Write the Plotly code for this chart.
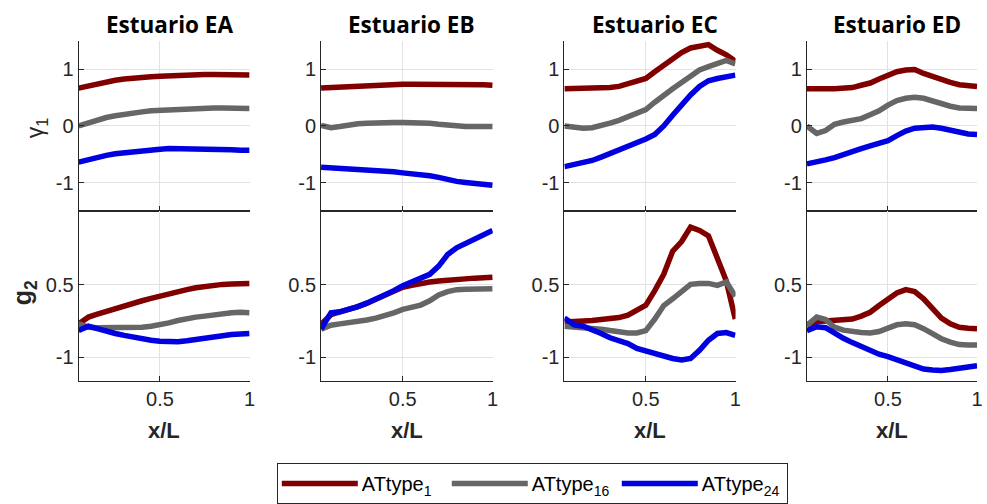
import plotly.graph_objects as go

# Along-channel positions (x/L) shared by every curve
X = [0.045, 0.1, 0.15, 0.2, 0.25, 0.3, 0.35, 0.4, 0.45, 0.5,
     0.55, 0.6, 0.65, 0.7, 0.75, 0.8, 0.85, 0.9, 0.95, 1.0]

ESTUARIES = ["Estuario EA", "Estuario EB", "Estuario EC", "Estuario ED"]
SERIES_NAMES = ["ATtype<sub>1</sub>", "ATtype<sub>16</sub>", "ATtype<sub>24</sub>"]
SERIES_COLORS = ["#800000", "#666666", "#0000e0"]

# gamma_1 (top row)
EA_G1_AT1 = [0.67, 0.71, 0.75, 0.78, 0.81, 0.83, 0.85, 0.86, 0.87, 0.88, 0.89, 0.90, 0.90, 0.91, 0.91, 0.91, 0.91, 0.91, 0.91, 0.90]
EA_G1_AT16 = [0.0, 0.06, 0.11, 0.15, 0.18, 0.21, 0.23, 0.25, 0.27, 0.28, 0.29, 0.30, 0.31, 0.32, 0.32, 0.32, 0.32, 0.32, 0.32, 0.31]
EA_G1_AT24 = [-0.64, -0.59, -0.55, -0.52, -0.49, -0.47, -0.45, -0.43, -0.42, -0.41, -0.40, -0.40, -0.40, -0.40, -0.41, -0.41, -0.42, -0.42, -0.43, -0.43]

EB_G1_AT1 = [0.67, 0.68, 0.69, 0.70, 0.71, 0.72, 0.72, 0.73, 0.73, 0.74, 0.74, 0.74, 0.745, 0.745, 0.745, 0.74, 0.74, 0.73, 0.73, 0.72]
EB_G1_AT16 = [0.01, -0.03, -0.01, 0.02, 0.04, 0.05, 0.06, 0.06, 0.06, 0.06, 0.06, 0.06, 0.05, 0.03, 0.01, 0.0, -0.01, -0.01, -0.01, -0.01]
EB_G1_AT24 = [-0.73, -0.74, -0.745, -0.75, -0.76, -0.77, -0.78, -0.80, -0.81, -0.83, -0.84, -0.86, -0.88, -0.91, -0.95, -0.98, -1.0, -1.02, -1.04, -1.05]

EC_G1_AT1 = [0.66, 0.66, 0.66, 0.66, 0.67, 0.68, 0.70, 0.74, 0.78, 0.84, 0.96, 1.08, 1.20, 1.30, 1.38, 1.41, 1.44, 1.34, 1.26, 1.15]
EC_G1_AT16 = [0.0, -0.03, -0.04, -0.03, 0.0, 0.05, 0.10, 0.16, 0.22, 0.29, 0.42, 0.55, 0.66, 0.77, 0.89, 0.99, 1.05, 1.10, 1.16, 1.10]
EC_G1_AT24 = [-0.72, -0.68, -0.65, -0.61, -0.55, -0.49, -0.43, -0.37, -0.30, -0.23, -0.15, 0.0, 0.19, 0.38, 0.55, 0.70, 0.80, 0.84, 0.87, 0.90]

ED_G1_AT1 = [0.66, 0.65, 0.66, 0.66, 0.67, 0.68, 0.72, 0.76, 0.83, 0.90, 0.96, 0.99, 1.0, 0.93, 0.87, 0.81, 0.77, 0.73, 0.71, 0.70]
ED_G1_AT16 = [0.0, -0.13, -0.08, 0.03, 0.07, 0.10, 0.13, 0.20, 0.27, 0.37, 0.45, 0.49, 0.51, 0.49, 0.44, 0.39, 0.35, 0.32, 0.31, 0.31]
ED_G1_AT24 = [-0.67, -0.64, -0.60, -0.56, -0.50, -0.45, -0.40, -0.35, -0.31, -0.26, -0.17, -0.09, -0.04, -0.02, -0.02, -0.04, -0.08, -0.12, -0.14, -0.15]

# g_2 (bottom row)
EA_G2_AT1 = [-0.31, -0.17, -0.11, -0.05, 0.0, 0.06, 0.11, 0.17, 0.22, 0.27, 0.32, 0.36, 0.40, 0.44, 0.47, 0.49, 0.51, 0.52, 0.53, 0.53]
EA_G2_AT16 = [-0.31, -0.38, -0.39, -0.39, -0.40, -0.40, -0.40, -0.38, -0.36, -0.33, -0.29, -0.24, -0.20, -0.17, -0.15, -0.12, -0.10, -0.08, -0.07, -0.08]
EA_G2_AT24 = [-0.45, -0.36, -0.41, -0.47, -0.51, -0.55, -0.59, -0.63, -0.65, -0.67, -0.68, -0.68, -0.66, -0.63, -0.61, -0.58, -0.56, -0.53, -0.52, -0.51]

EB_G2_AT1 = [-0.32, -0.12, -0.06, -0.01, 0.05, 0.12, 0.20, 0.29, 0.37, 0.45, 0.49, 0.53, 0.56, 0.58, 0.60, 0.62, 0.63, 0.64, 0.65, 0.66]
EB_G2_AT16 = [-0.42, -0.34, -0.31, -0.29, -0.26, -0.23, -0.19, -0.14, -0.08, -0.01, 0.04, 0.08, 0.17, 0.29, 0.36, 0.40, 0.41, 0.42, 0.42, 0.42]
EB_G2_AT24 = [-0.42, -0.08, -0.06, -0.01, 0.05, 0.12, 0.20, 0.29, 0.38, 0.48, 0.55, 0.62, 0.72, 0.89, 1.13, 1.27, 1.36, 1.45, 1.52, 1.63]

EC_G2_AT1 = [-0.27, -0.27, -0.25, -0.24, -0.22, -0.21, -0.18, -0.13, -0.04, 0.08, 0.38, 0.72, 1.20, 1.40, 1.70, 1.63, 1.52, 1.06, 0.58, -0.21]
EC_G2_AT16 = [-0.36, -0.37, -0.38, -0.40, -0.42, -0.45, -0.48, -0.50, -0.50, -0.45, -0.21, 0.07, 0.21, 0.36, 0.51, 0.53, 0.53, 0.49, 0.56, 0.26]
EC_G2_AT24 = [-0.19, -0.33, -0.36, -0.42, -0.51, -0.60, -0.66, -0.72, -0.82, -0.88, -0.92, -0.97, -1.03, -1.06, -1.03, -0.86, -0.65, -0.51, -0.49, -0.55]

ED_G2_AT1 = [-0.33, -0.26, -0.25, -0.24, -0.23, -0.21, -0.15, -0.07, 0.07, 0.21, 0.33, 0.40, 0.36, 0.21, 0.0, -0.19, -0.31, -0.38, -0.40, -0.41]
ED_G2_AT16 = [-0.34, -0.17, -0.22, -0.38, -0.44, -0.47, -0.49, -0.50, -0.47, -0.40, -0.33, -0.31, -0.33, -0.41, -0.52, -0.62, -0.69, -0.74, -0.75, -0.75]
ED_G2_AT24 = [-0.45, -0.37, -0.39, -0.51, -0.61, -0.70, -0.79, -0.88, -0.94, -0.99, -1.06, -1.13, -1.19, -1.25, -1.27, -1.28, -1.26, -1.23, -1.20, -1.18]

# Tick labels
G1_TICKS = [-1, 0, 1]
G1_TICKTEXT = ["-1", "0", "1"]
G2_TICKS = [-1, 0.5]
G2_TICKTEXT = ["-1", "0.5"]
X_TICKS = [0.5, 1]
X_TICKTEXT = ["0.5", "1"]

ROWS = [
    [[EA_G1_AT1, EA_G1_AT16, EA_G1_AT24], [EB_G1_AT1, EB_G1_AT16, EB_G1_AT24],
     [EC_G1_AT1, EC_G1_AT16, EC_G1_AT24], [ED_G1_AT1, ED_G1_AT16, ED_G1_AT24]],
    [[EA_G2_AT1, EA_G2_AT16, EA_G2_AT24], [EB_G2_AT1, EB_G2_AT16, EB_G2_AT24],
     [EC_G2_AT1, EC_G2_AT16, EC_G2_AT24], [ED_G2_AT1, ED_G2_AT16, ED_G2_AT24]],
]

W, H = 987, 504
COL_DOMAINS = [[79 / W, 251 / W], [322.7 / W, 495.3 / W], [567.3 / W, 739.3 / W], [811 / W, 982.3 / W]]
ROW_DOMAINS = [[1 - 213.3 / H, 1 - 41.7 / H], [1 - 385.7 / H, 1 - 213.3 / H]]
ROW_RANGES = [[-1.5, 1.5], [-1.5, 2.04]]
ROW_TICKS = [(G1_TICKS, G1_TICKTEXT), (G2_TICKS, G2_TICKTEXT)]

AX_COLOR = "#262626"
GRID_COLOR = "#e2e2e2"
SANS = "Liberation Sans, Arial, sans-serif"
TICK_FONT = dict(family=SANS, size=20, color=AX_COLOR)

fig = go.Figure()
layout = {}
for r in range(2):
    for c in range(4):
        n = r * 4 + c + 1
        xa = "x" if n == 1 else f"x{n}"
        ya = "y" if n == 1 else f"y{n}"
        for s in range(3):
            fig.add_trace(go.Scatter(
                x=X, y=ROWS[r][c][s], mode="lines", xaxis=xa, yaxis=ya,
                name=SERIES_NAMES[s], legendgroup=f"s{s}",
                showlegend=(n == 1),
                line=dict(color=SERIES_COLORS[s], width=5.5),
            ))
        layout["xaxis" if n == 1 else f"xaxis{n}"] = dict(
            domain=COL_DOMAINS[c], anchor=ya, range=[0.045, 1.0015],
            tickvals=X_TICKS, ticktext=X_TICKTEXT, showticklabels=(r == 1),
            ticks="inside", ticklen=5, tickcolor=AX_COLOR, tickfont=TICK_FONT,
            showline=True, linecolor=AX_COLOR, linewidth=1, mirror=(r == 1),
            showgrid=True, gridcolor=GRID_COLOR, gridwidth=1, zeroline=False,
        )
        tv, tt = ROW_TICKS[r]
        layout["yaxis" if n == 1 else f"yaxis{n}"] = dict(
            domain=ROW_DOMAINS[r], anchor=xa, range=ROW_RANGES[r],
            tickvals=tv, ticktext=tt,
            ticks="inside", ticklen=5, tickcolor=AX_COLOR, tickfont=TICK_FONT,
            showline=True, linecolor=AX_COLOR, linewidth=1,
            showgrid=True, gridcolor=GRID_COLOR, gridwidth=1, zeroline=False,
        )

annotations = []
for c, title in enumerate(ESTUARIES):
    cx = (COL_DOMAINS[c][0] + COL_DOMAINS[c][1]) / 2 + 5 / W
    annotations.append(dict(
        text=f"<b>{title}</b>", x=cx, y=1 - 25 / H, xref="paper", yref="paper",
        xanchor="center", yanchor="middle", showarrow=False,
        font=dict(family="Open Sans, sans-serif", size=22.5, color="#000000"),
    ))
    annotations.append(dict(
        text="<b>x/L</b>", x=(COL_DOMAINS[c][0] + COL_DOMAINS[c][1]) / 2, y=1 - 436 / H,
        xref="paper", yref="paper", xanchor="center", yanchor="middle",
        showarrow=False, font=dict(family=SANS, size=22, color=AX_COLOR),
    ))
annotations.append(dict(
    text="γ<sub>1</sub>", x=37 / W, y=1 - 129 / H, xref="paper", yref="paper",
    xanchor="center", yanchor="middle", textangle=-90, showarrow=False,
    font=dict(family=SANS, size=23, color=AX_COLOR),
))
annotations.append(dict(
    text="<b>g<sub>2</sub></b>", x=25 / W, y=1 - 296 / H, xref="paper", yref="paper",
    xanchor="center", yanchor="middle", textangle=-90, showarrow=False,
    font=dict(family=SANS, size=25, color=AX_COLOR),
))

fig.update_layout(
    width=W, height=H, margin=dict(l=0, r=0, t=0, b=0),
    plot_bgcolor="white", paper_bgcolor="white",
    annotations=annotations,
    legend=dict(
        orientation="h", x=535 / W, xanchor="center", y=1 - 469 / H, yanchor="top",
        bordercolor=AX_COLOR, borderwidth=1, bgcolor="white",
        font=dict(family=SANS, size=20, color="#000000"),
        entrywidth=80, entrywidthmode="pixels", itemwidth=75,
    ),
    **layout,
)

# Longer sample strokes in the legend, spanning the widened item slot
LEGEND_STROKES = """
var gd = document.getElementById('{plot_id}');
function widenLegendStrokes() {
  gd.querySelectorAll('.legendlines path').forEach(function (p) {
    p.setAttribute('d', 'M5,0h76');
  });
}
widenLegendStrokes();
gd.on('plotly_afterplot', widenLegendStrokes);
"""

fig.write_html("out.html", post_script=LEGEND_STROKES)
